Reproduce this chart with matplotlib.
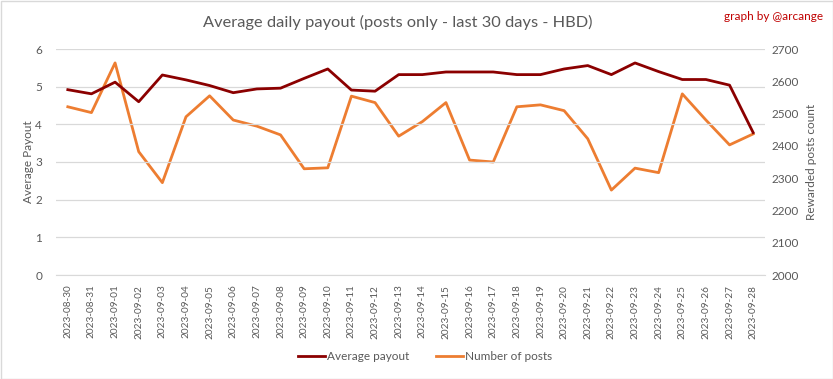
import matplotlib
matplotlib.use("Agg")
import matplotlib.pyplot as plt
from matplotlib.patches import Rectangle

plt.rcParams['font.family'] = ['Lato', 'DejaVu Sans']

dates = ["2023-08-30", "2023-08-31", "2023-09-01", "2023-09-02", "2023-09-03",
         "2023-09-04", "2023-09-05", "2023-09-06", "2023-09-07", "2023-09-08",
         "2023-09-09", "2023-09-10", "2023-09-11", "2023-09-12", "2023-09-13",
         "2023-09-14", "2023-09-15", "2023-09-16", "2023-09-17", "2023-09-18",
         "2023-09-19", "2023-09-20", "2023-09-21", "2023-09-22", "2023-09-23",
         "2023-09-24", "2023-09-25", "2023-09-26", "2023-09-27", "2023-09-28"]
avg_payout = [4.92, 4.81, 5.12, 4.60, 5.31, 5.18, 5.03, 4.84, 4.94, 4.96,
              5.22, 5.47, 4.91, 4.88, 5.32, 5.32, 5.39, 5.39, 5.39, 5.32,
              5.32, 5.47, 5.56, 5.32, 5.63, 5.40, 5.19, 5.19, 5.04, 3.78]
num_posts = [2521, 2503, 2657, 2382, 2286, 2490, 2555, 2480, 2461, 2434,
             2329, 2332, 2554, 2534, 2430, 2475, 2534, 2356, 2350, 2521,
             2527, 2509, 2422, 2263, 2331, 2317, 2561, 2480, 2403, 2437]

gray = "#595959"
dark_red = "#8B0000"
orange = "#ED7D31"

fig = plt.figure(figsize=(8.33, 3.79), dpi=100)
W, H = 833, 379
ax = fig.add_axes([56 / W, 1 - 275 / H, (765 - 56) / W, (275 - 49) / H])
ax2 = ax.twinx()

x = list(range(len(dates)))
l1, = ax.plot(x, avg_payout, color=dark_red, lw=2, label="Average payout", zorder=3)
l2, = ax2.plot(x, num_posts, color=orange, lw=2, label="Number of posts", zorder=2)
ax.set_zorder(ax2.get_zorder() + 1)
ax.patch.set_visible(False)

ax.set_xlim(-0.5, len(dates) - 0.5)
ax.set_ylim(0, 6)
ax2.set_ylim(2000, 2700)
ax.set_yticks(range(0, 7))
ax2.set_yticks(range(2000, 2701, 100))
ax.set_xticks(x)
ax.set_xticklabels(dates, rotation=90, fontsize=7.2, color=gray)

ax.grid(axis='y', color="#D9D9D9", lw=0.9)
ax.set_axisbelow(True)
for a in (ax, ax2):
    for s in a.spines.values():
        s.set_visible(False)
    a.tick_params(length=0, colors=gray, labelsize=8.5)
ax.spines['bottom'].set_visible(True)
ax.spines['bottom'].set_color("#D9D9D9")
ax.tick_params(axis='y', pad=10)
ax2.tick_params(axis='y', pad=5)
ax.tick_params(axis='x', pad=7, labelsize=7.2)

ax.set_ylabel("Average Payout", color=gray, fontsize=8.5)
ax.yaxis.set_label_coords((34 - 56) / 709, 0.5)
ax2.set_ylabel("Rewarded posts count", color=gray, fontsize=8.5)
ax2.yaxis.set_label_coords((806 - 56) / 709, 0.5)

fig.text(398 / W, 1 - 22 / H, "Average daily payout (posts only - last 30 days - HBD)",
         ha='center', va='center', fontsize=11.8, color=gray)
fig.text(823 / W, 1 - 16 / H, "graph by @arcange", ha='right', va='center',
         fontsize=8.5, color="#C00000")

fig.legend(handles=[l1, l2], loc='center', bbox_to_anchor=(425 / W, 1 - 357 / H),
           ncol=2, frameon=False, fontsize=8.5, labelcolor=gray, handlelength=2.3,
           handletextpad=0.2, columnspacing=2.2)

fig.patches.append(Rectangle((0.5 / W, 0.5 / H), 1 - 1 / W, 1 - 1 / H,
                             transform=fig.transFigure, fill=False,
                             edgecolor="#D9D9D9", lw=1))

fig.savefig("out.png", dpi=100)
